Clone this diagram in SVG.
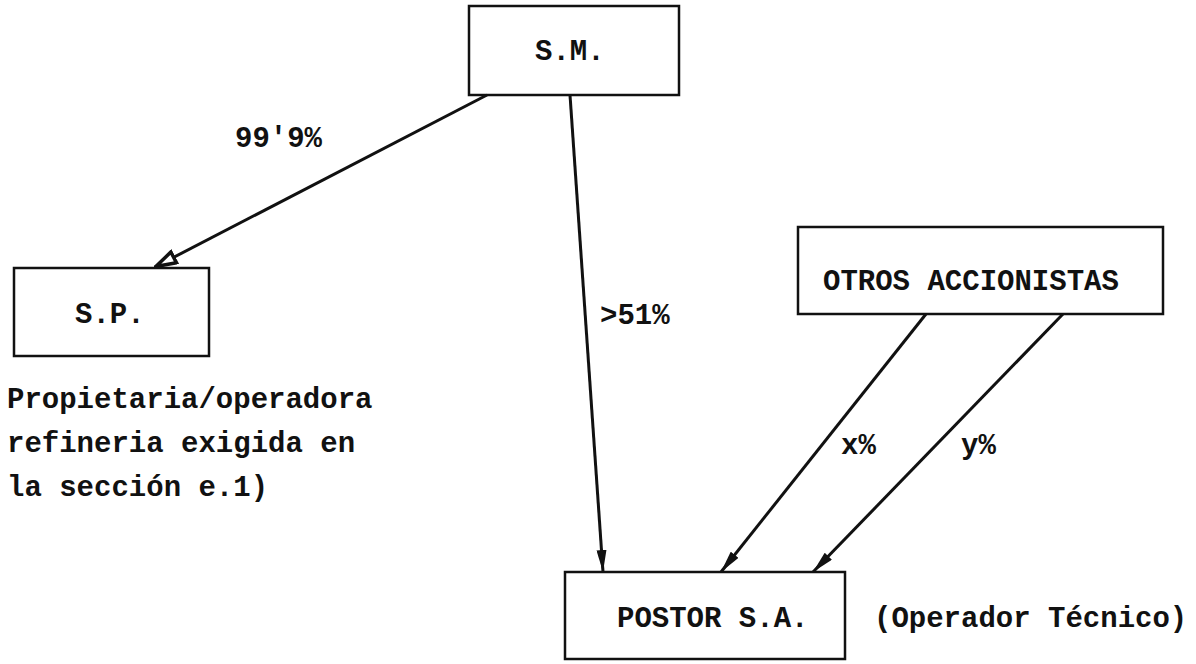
<svg xmlns="http://www.w3.org/2000/svg" width="1196" height="664" viewBox="0 0 1196 664">
<style>
.box{fill:none;stroke:#111;stroke-width:2.5}
.t{font-family:"Liberation Mono","Courier New",monospace;font-size:29px;font-weight:bold;fill:#111}
.c{fill:none;stroke:#111;stroke-width:3}
</style>
<defs>
<marker id="af" viewBox="0 0 22 10" refX="22" refY="5" markerWidth="22" markerHeight="10" markerUnits="userSpaceOnUse" orient="auto">
<path d="M0,0 L22,5 L0,10 Z" fill="#111"/>
</marker>
<marker id="ao" viewBox="0 0 24 16" refX="23" refY="8" markerWidth="24" markerHeight="16" markerUnits="userSpaceOnUse" orient="auto">
<path d="M2,2 L22,8 L2,14 Z" fill="#fff" stroke="#111" stroke-width="3.5"/>
</marker>
</defs>
<rect width="1196" height="664" fill="#fff"/>
<g id="connectors">
<line class="c" x1="487" y1="95" x2="155" y2="267" marker-end="url(#ao)"/>
<line class="c" x1="570" y1="95" x2="603" y2="572" marker-end="url(#af)"/>
<line class="c" x1="926" y1="314" x2="721" y2="572" marker-end="url(#af)"/>
<line class="c" x1="1063" y1="314" x2="813" y2="572" marker-end="url(#af)"/>
<text class="t" x="235" y="147">99'9%</text>
<text class="t" x="600" y="324">&gt;51%</text>
<text class="t" x="841" y="454">x%</text>
<text class="t" x="961" y="454">y%</text>
</g>
<g id="sm">
<rect class="box" x="469" y="6" width="210" height="89"/>
<text class="t" x="535" y="60">S.M.</text>
</g>
<g id="sp">
<rect class="box" x="14" y="268" width="195" height="88"/>
<text class="t" x="75" y="323">S.P.</text>
</g>
<g id="otros">
<rect class="box" x="798" y="227" width="365" height="87"/>
<text class="t" x="823" y="290">OTROS ACCIONISTAS</text>
</g>
<g id="postor">
<rect class="box" x="565" y="572" width="280" height="87"/>
<text class="t" x="617" y="627">POSTOR S.A.</text>
</g>
<g id="notes">
<text class="t" x="874" y="627">(Operador Técnico)</text>
<text class="t" x="7" y="408">Propietaria/operadora</text>
<text class="t" x="7" y="452">refineria exigida en</text>
<text class="t" x="7" y="496">la sección e.1)</text>
</g>
</svg>
